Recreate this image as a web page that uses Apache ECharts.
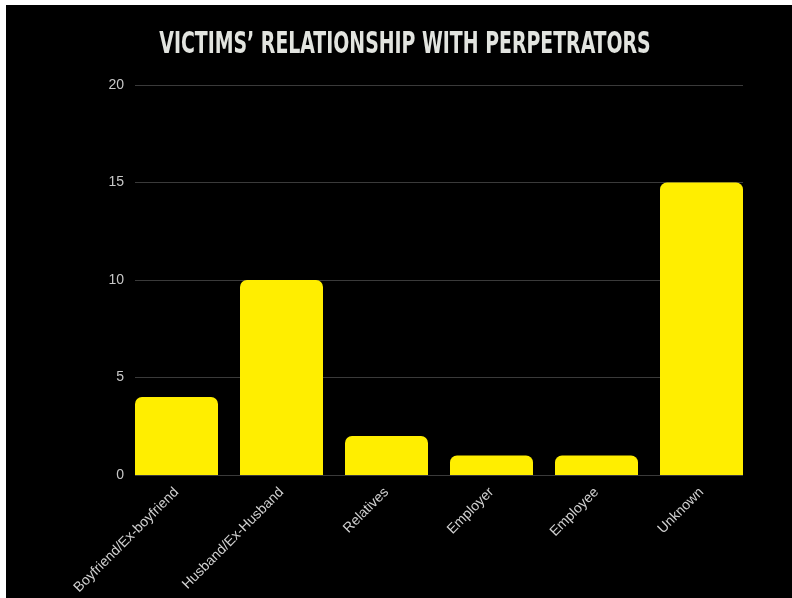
<!DOCTYPE html>
<html>
<head>
<meta charset="utf-8">
<script src="https://cdn.jsdelivr.net/npm/echarts@6/dist/echarts.min.js"></script>
<style>
  html, body { margin: 0; padding: 0; background: #ffffff; overflow: hidden; height: 100%; }
  #chart { position: absolute; left: 6px; top: 5px; right: 0; bottom: 0; background: #000000; }
</style>
</head>
<body>
<div id="chart"></div>
<script>
// Relationship categories and number of victims in each
const categories = ['Boyfriend/Ex-boyfriend', 'Husband/Ex-Husband', 'Relatives', 'Employer', 'Employee', 'Unknown'];
const victimCounts = [4, 10, 2, 1, 1, 15];
const yTicks = [0, 5, 10, 15, 20];

const chart = echarts.init(document.getElementById('chart'));

const yMin = yTicks[0];
const yMax = yTicks[yTicks.length - 1];
const yStep = yTicks[1] - yTicks[0];

chart.setOption({
  backgroundColor: '#000000',
  animation: false,
  graphic: [{
    type: 'text',
    x: 399,
    y: 40,
    scaleX: 0.70,
    style: {
      text: 'VICTIMS\u2019 RELATIONSHIP WITH PERPETRATORS',
      font: 'bold 30px "DejaVu Sans Condensed"',
      fill: '#e2e4df',
      textAlign: 'center',
      textVerticalAlign: 'middle'
    }
  }],
  grid: [
    // bars
    { left: 118, width: 630, top: 80, height: 390 },
    // value scale with gridlines
    { left: 129, width: 608, top: 80, height: 390 }
  ],
  xAxis: [
    {
      type: 'category', gridIndex: 0, data: categories,
      axisLine: { show: false }, axisTick: { show: false },
      axisLabel: {
        rotate: 45, interval: 0, margin: 15,
        color: '#d0d0d0', fontSize: 14, fontFamily: 'Liberation Sans'
      }
    },
    { type: 'value', gridIndex: 1, show: false, min: 0, max: 1 }
  ],
  yAxis: [
    { type: 'value', gridIndex: 0, min: yMin, max: yMax, interval: yStep, show: false },
    {
      type: 'value', gridIndex: 1, min: yMin, max: yMax, interval: yStep,
      axisLine: { show: false }, axisTick: { show: false },
      axisLabel: { color: '#c8c8c8', fontSize: 14, fontFamily: 'Liberation Sans', margin: 11 },
      splitLine: { lineStyle: { color: '#3a3a3a', width: 1 } }
    }
  ],
  series: [{
    type: 'bar',
    xAxisIndex: 0, yAxisIndex: 0,
    data: victimCounts,
    barWidth: 83,
    z: 3,
    itemStyle: { color: '#ffee00', borderRadius: [7, 7, 0, 0] }
  }]
});
</script>
</body>
</html>
